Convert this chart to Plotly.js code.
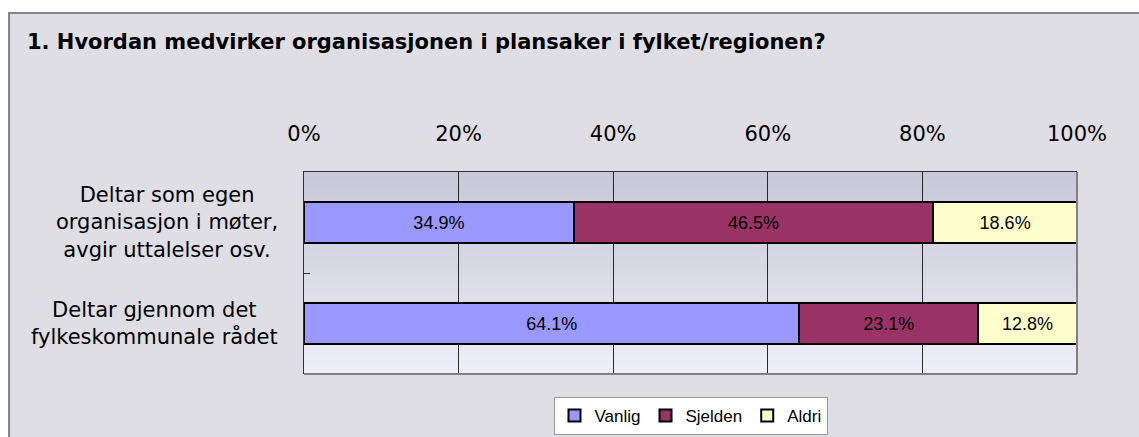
<!DOCTYPE html>
<html>
<head>
<meta charset="utf-8">
<script src="https://cdn.plot.ly/plotly-3.0.1.min.js"></script>
<style>
  html, body { margin:0; padding:0; background:#ffffff; width:1139px; height:437px; overflow:hidden; }
  #frame { position:absolute; left:8px; top:12px; width:1131px; height:425px; box-sizing:border-box;
           background:#DFDEE4; border-top:2px solid #868686; border-left:2px solid #868686; }
  #grad { position:absolute; left:304px; top:172px; width:773px; height:202px;
          background:linear-gradient(to bottom, #C9C8D9 0%, #DAD9E6 50%, #EFEFF9 100%); }
  #chart { position:absolute; left:10px; top:14px; width:1129px; height:423px; }
</style>
</head>
<body>
<div id="frame"></div>
<div id="grad"></div>
<div id="chart"></div>
<script>
const categories = [
  "Deltar som egen<br>organisasjon i møter,<br>avgir uttalelser osv.",
  "Deltar gjennom det<br>fylkeskommunale rådet"
];
const seriesNames = ["Vanlig", "Sjelden", "Aldri"];
const vanlig = [34.9, 64.1];
const sjelden = [46.5, 23.1];
const aldri = [18.6, 12.8];
const xTickVals = [0, 20, 40, 60, 80, 100];
const xTickText = ["0%", "20%", "40%", "60%", "80%", "100%"];
const titleText = "1. Hvordan medvirker organisasjonen i plansaker i fylket/regionen?";

const colors = ["#9999FF", "#993366", "#FFFFCC"];
const values = [vanlig, sjelden, aldri];
const FONT = "Verdana, 'DejaVu Sans', sans-serif";
const FONT2 = "Arial, 'Liberation Sans', sans-serif";

const traces = values.map((v, i) => ({
  type: "bar",
  orientation: "h",
  name: seriesNames[i],
  x: v,
  y: categories,
  width: 0.405,
  marker: { color: colors[i], line: { color: "#000000", width: 2 } },
  text: v.map(d => d.toFixed(1) + "%"),
  texttemplate: "%{text}",
  textposition: "inside",
  insidetextanchor: "middle",
  textangle: 0,
  insidetextfont: { family: FONT2, size: 18, color: "#000000" },
  hoverinfo: "skip"
}));

const annotations = categories.map(c => ({
  xref: "paper", yref: "y",
  x: -0.031, y: c,
  xanchor: "right", yanchor: "middle",
  align: "center",
  text: c,
  showarrow: false,
  font: { family: FONT, size: 21, color: "#000000" }
}));

const layout = {
  width: 1129, height: 423,
  margin: { l: 294, r: 62, t: 158, b: 63, pad: 0, autoexpand: false },
  paper_bgcolor: "rgba(0,0,0,0)",
  plot_bgcolor: "rgba(0,0,0,0)",
  barmode: "stack",
  showlegend: true,
  title: {
    text: "<b>" + titleText + "</b>",
    xref: "container", x: 0.015, xanchor: "left",
    yref: "container", y: 0.935, yanchor: "middle",
    font: { family: FONT, size: 21, color: "#000000" }
  },
  xaxis: {
    side: "top",
    range: [0, 100],
    tickmode: "array",
    tickvals: xTickVals,
    ticktext: xTickText,
    ticks: "",
    ticklabelstandoff: 22,
    tickfont: { family: FONT, size: 21, color: "#000000" },
    showgrid: true, gridcolor: "#2a2a2a", gridwidth: 1,
    showline: true, linecolor: "#333333", linewidth: 1,
    zeroline: false, fixedrange: true
  },
  yaxis: {
    type: "category",
    autorange: "reversed",
    showticklabels: false,
    ticks: "inside", ticklen: 6, tickcolor: "#333333", tickwidth: 1,
    tickson: "boundaries",
    showgrid: false,
    showline: true, linecolor: "#333333", linewidth: 1,
    zeroline: false, fixedrange: true
  },
  shapes: [
    { type: "line", xref: "paper", yref: "paper", x0: 1, x1: 1, y0: 0, y1: 1,
      line: { color: "#808080", width: 2 } },
    { type: "line", xref: "paper", yref: "paper", x0: 0, x1: 1, y0: 0, y1: 0,
      line: { color: "#808080", width: 2 } }
  ],
  annotations: annotations,
  legend: {
    orientation: "h",
    x: 0.5, xanchor: "center",
    y: -0.114, yanchor: "top",
    bgcolor: "#FFFFFF",
    bordercolor: "#999999", borderwidth: 1,
    font: { family: FONT2, size: 17, color: "#000000" },
    itemwidth: 30,
    traceorder: "normal"
  }
};

Plotly.newPlot("chart", traces, layout, { displayModeBar: false, staticPlot: true });
</script>
</body>
</html>
